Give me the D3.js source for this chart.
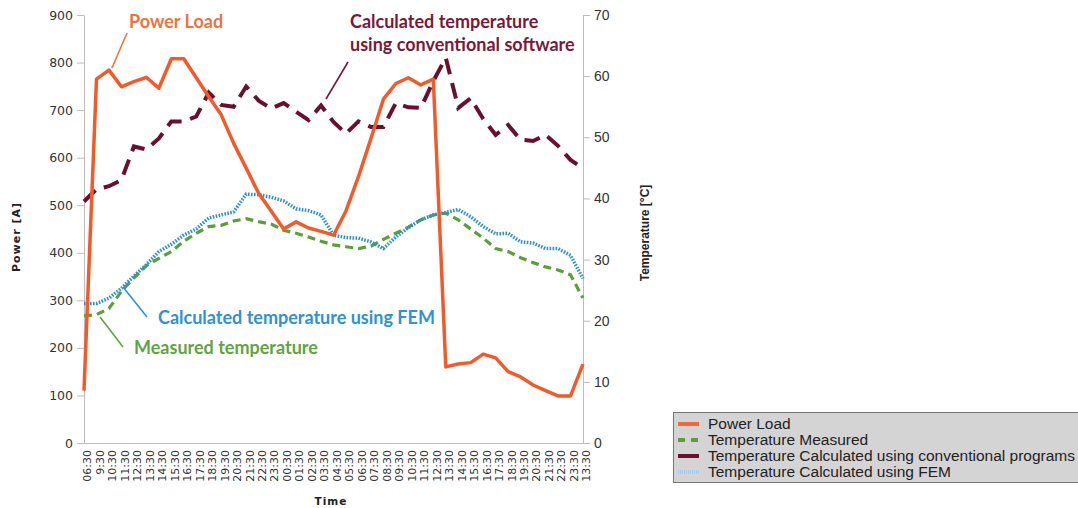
<!DOCTYPE html>
<html>
<head>
<meta charset="utf-8">
<script src="https://cdn.jsdelivr.net/npm/d3@7"></script>
<style>
  body { margin: 0; background: #fff; }
  svg { display: block; }
</style>
</head>
<body>
<div id="container"></div>
<script>
/* DATA */
const times = ["06:30","9:30","10:30","11:30","12:30","13:30","14:30","15:30","16:30","17:30",
  "18:30","19:30","20:30","21:30","22:30","23:30","00:30","01:30","02:30","03:30",
  "04:30","05:30","06:30","07:30","08:30","09:30","10:30","11:30","12:30","13:30",
  "14:30","15:30","16:30","17:30","18:30","19:30","20:30","21:30","22:30","23:30","13:30"];

const powerLoad = [110,765,784,749,760,769,746,808,808,768,728,690,630,578,525,488,450,465,452,445,
  437,488,560,640,723,756,768,753,765,160,166,169,187,179,150,139,122,110,99,99,166];

const tempMeasured = [20.8,21,22,24.8,27,29,30.2,31.3,33,34.3,35.4,35.6,36.3,36.7,36.2,35.8,34.8,34.3,33.7,33,
  32.4,32.1,31.8,32.2,33.3,34.3,35.3,36.5,37.3,37.6,36.5,35,33.5,31.8,31.3,30.3,29.5,28.8,28.3,27.5,23.7];

const tempConventional = [39.5,41.5,42,43,48.5,48,49.8,52.6,52.6,53.4,57.3,55.3,55,58.3,56,54.7,55.6,54.2,52.8,55.2,
  52.5,50.6,52.6,51.7,51.7,55.6,54.9,54.8,59.2,63,54.8,56.4,53,50.4,52,49.6,49.4,50.4,48.6,46.3,44.9];

const tempFEM = [22.8,22.8,23.7,25.3,27.3,29.2,31.3,32.5,34,35,36.8,37.3,37.8,40.7,40.6,40.2,39.6,38.3,38,37.3,
  34,33.6,33.5,32.9,31.8,33.7,35.2,36.5,37.3,37.7,38.2,37,35.4,34.2,34.3,32.9,32.7,31.8,31.8,30.7,26.9];

const powerTicks = d3.range(0, 901, 100);
const tempTicks = d3.range(0, 71, 10);

const legendItems = [
  { label: "Power Load", color: "#f26b3a", dash: null, w: 4 },
  { label: "Temperature Measured", color: "#5b9f3a", dash: "7,6", w: 4 },
  { label: "Temperature Calculated using conventional programs", color: "#6b0f2e", dash: null, w: 4 },
  { label: "Temperature Calculated using FEM", color: "#a9c9ec", dash: "1,1", w: 4 }
];

/* CONSTANTS */
const width = 1078, height = 508;
const plot = { left: 84, right: 583, top: 15, bottom: 443 };

const svg = d3.select("#container")
  .append("svg")
  .attr("width", width)
  .attr("height", height);

svg.append("rect").attr("width", width).attr("height", height).attr("fill", "#fff");

// SCALES
const x = d3.scalePoint()
  .domain(d3.range(times.length))
  .range([plot.left, plot.right]);

const yPow = d3.scaleLinear().domain([0, 900]).range([plot.bottom, plot.top]);
const yTemp = d3.scaleLinear().domain([0, 70]).range([plot.bottom, plot.top]);

// AXES
const leftAxis = svg.append("g")
  .attr("transform", `translate(${plot.left},0)`)
  .call(d3.axisLeft(yPow).tickValues(powerTicks).tickSize(7).tickSizeOuter(0).tickPadding(4));
leftAxis.selectAll("text")
  .attr("font-family", "DejaVu Sans")
  .attr("font-size", 12.5)
  .attr("fill", "#333");

const rightAxis = svg.append("g")
  .attr("transform", `translate(${plot.right},0)`)
  .call(d3.axisRight(yTemp).tickValues(tempTicks).tickSize(7).tickSizeOuter(0).tickPadding(4));
rightAxis.selectAll("text")
  .attr("font-family", "Liberation Sans")
  .attr("font-size", 14)
  .attr("fill", "#333");

const bottomAxis = svg.append("g")
  .attr("transform", `translate(0,${plot.bottom})`)
  .call(d3.axisBottom(x).tickFormat(i => times[i]).tickSize(0).tickSizeOuter(0));
bottomAxis.selectAll("text")
  .attr("transform", "rotate(-90)")
  .attr("text-anchor", "end")
  .attr("x", -7)
  .attr("y", 3)
  .attr("dy", "0.35em")
  .attr("font-family", "DejaVu Sans")
  .attr("font-size", 11)
  .attr("fill", "#333");

[leftAxis, rightAxis, bottomAxis].forEach(g => {
  g.select(".domain").attr("stroke", "#bdbdbd");
  g.selectAll(".tick line").attr("stroke", "#bdbdbd");
});

// AXIS TITLES
svg.append("text")
  .attr("transform", "translate(20,237) rotate(-90)")
  .attr("text-anchor", "middle")
  .attr("font-family", "DejaVu Sans")
  .attr("font-weight", "bold")
  .attr("font-size", 11)
  .attr("letter-spacing", 1)
  .attr("fill", "#222")
  .text("Power [A]");

svg.append("text")
  .attr("transform", "translate(649,233) rotate(-90)")
  .attr("text-anchor", "middle")
  .attr("font-family", "Liberation Sans")
  .attr("font-weight", "bold")
  .attr("font-size", 12)
  .attr("fill", "#222")
  .text("Temperature [°C]");

svg.append("text")
  .attr("x", 331)
  .attr("y", 505)
  .attr("text-anchor", "middle")
  .attr("font-family", "DejaVu Sans")
  .attr("font-weight", "bold")
  .attr("font-size", 10.5)
  .attr("letter-spacing", 1)
  .attr("fill", "#222")
  .text("Time");

// LINES
const powerLine = d3.line().x((d, i) => x(i)).y(d => yPow(d));
const tempLine = d3.line().x((d, i) => x(i)).y(d => yTemp(d));

svg.append("path")
  .datum(tempMeasured)
  .attr("d", tempLine)
  .attr("fill", "none")
  .attr("stroke", "#5b9f3a")
  .attr("stroke-width", 3.2)
  .attr("stroke-dasharray", "8,5");

svg.append("path")
  .datum(tempFEM)
  .attr("d", tempLine)
  .attr("fill", "none")
  .attr("stroke", "#2b8fd6")
  .attr("stroke-width", 3.5)
  .attr("stroke-dasharray", "1.6,1.4");

svg.append("path")
  .datum(tempConventional)
  .attr("d", tempLine)
  .attr("fill", "none")
  .attr("stroke", "#6b0f2e")
  .attr("stroke-width", 4)
  .attr("stroke-dasharray", "16,9");

svg.append("path")
  .datum(powerLoad)
  .attr("d", powerLine)
  .attr("fill", "none")
  .attr("stroke", "#f25a2a")
  .attr("stroke-width", 3.5)
  .attr("stroke-linejoin", "round");

// ANNOTATIONS
const notes = [
  { lines: ["Power Load"], x: 129, y: 28, color: "#f2713f", lead: [127, 33, 112, 68] },
  { lines: ["Calculated temperature", "using conventional software"], x: 350, y: 28, color: "#7a1838", lead: [348, 62, 326, 99] },
  { lines: ["Calculated temperature using FEM"], x: 158, y: 324, color: "#2e92d4", lead: [147, 317, 123, 287] },
  { lines: ["Measured temperature"], x: 134, y: 354, color: "#5ea443", lead: [123, 347, 100, 317] }
];

notes.forEach(n => {
  svg.append("line")
    .attr("x1", n.lead[0]).attr("y1", n.lead[1])
    .attr("x2", n.lead[2]).attr("y2", n.lead[3])
    .attr("stroke", n.color)
    .attr("stroke-width", 1.6);
  const t = svg.append("text")
    .attr("x", n.x)
    .attr("y", n.y)
    .attr("font-family", "Lato")
    .attr("font-weight", "bold")
    .attr("font-size", 18)
    .attr("fill", n.color);
  n.lines.forEach((l, i) => {
    t.append("tspan").attr("x", n.x).attr("dy", i === 0 ? 0 : 23).text(l);
  });
});

// LEGEND
const legend = svg.append("g");
legend.append("rect")
  .attr("x", 673.5).attr("y", 412.5)
  .attr("width", 420).attr("height", 70)
  .attr("fill", "#d4d4d4")
  .attr("stroke", "#777");

legend.selectAll("g.item")
  .data(legendItems)
  .join("g")
  .attr("class", "item")
  .attr("transform", (d, i) => `translate(0,${424 + i * 16})`)
  .each(function (d) {
    const g = d3.select(this);
    g.append("line")
      .attr("x1", 678).attr("x2", 699)
      .attr("stroke", d.color)
      .attr("stroke-width", d.w)
      .attr("stroke-dasharray", d.dash);
    g.append("text")
      .attr("x", 708)
      .attr("dy", "0.35em")
      .attr("font-family", "Liberation Sans")
      .attr("font-size", 15.5)
      .attr("fill", "#222")
      .text(d.label);
  });
</script>
</body>
</html>
